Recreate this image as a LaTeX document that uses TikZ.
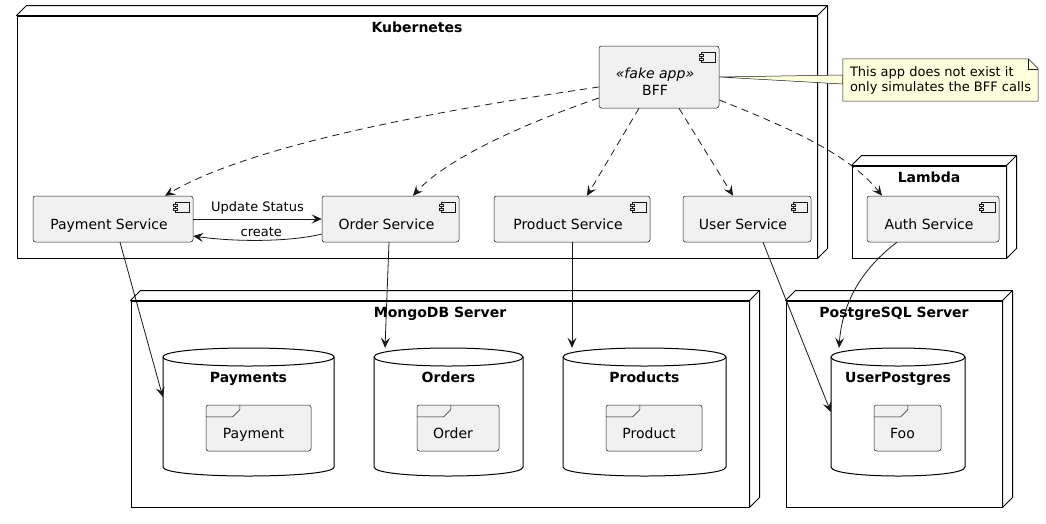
\documentclass[tikz,border=0pt]{standalone}
\usepackage{fontspec}
\setmainfont{DejaVu Sans}
\usetikzlibrary{arrows.meta}
\definecolor{ink}{RGB}{24,24,24}
\definecolor{compfill}{RGB}{241,241,241}
\definecolor{notefill}{RGB}{254,255,221}
\tikzset{
  depnode/.style={draw=black, line width=1pt, fill=white, inner sep=0pt},
  nodeline/.style={draw=black, line width=1pt, line join=round},
  ttl/.style={font=\fontsize{14}{16}\selectfont\bfseries, inner sep=0pt, text height=10.5pt, text depth=0pt},
  comp/.style={draw=ink, line width=0.5pt, fill=compfill, rounded corners=2.5pt, inner sep=0pt,
    path picture={
      \draw[sharp corners, draw=ink, line width=0.5pt] ([xshift=-18pt,yshift=-6pt]path picture bounding box.north east) rectangle ++(14pt,-10pt);
      \draw[sharp corners, draw=ink, line width=0.5pt, fill=compfill] ([xshift=-20pt,yshift=-8pt]path picture bounding box.north east) rectangle ++(4pt,-2pt);
      \draw[sharp corners, draw=ink, line width=0.5pt, fill=compfill] ([xshift=-20pt,yshift=-12pt]path picture bounding box.north east) rectangle ++(4pt,-2pt);
    }},
  complabel/.style={font=\fontsize{14}{17}\selectfont, inner sep=0pt, text height=10.5pt, text depth=0pt},
  twolabel/.style={font=\fontsize{14}{17}\selectfont, inner sep=0pt, align=center},
  frm/.style={draw=ink, line width=0.5pt, fill=compfill, rounded corners=2.5pt, inner sep=0pt},
  frmline/.style={draw=ink, line width=0.5pt},
  dbshape/.style={draw=black, line width=1pt, fill=white},
  dbline/.style={draw=black, line width=1pt},
  tip/.style={-{Stealth[length=10pt,width=9pt,inset=4pt]}},
  depend/.style={tip, draw=ink, line width=0.8pt, dash pattern=on 7pt off 5pt},
  link/.style={tip, draw=ink, line width=0.8pt},
  elabel/.style={font=\fontsize{13}{15}\selectfont, inner sep=0pt},
}
\newcommand\mynode[7]{%
  \node[depnode, minimum width={#4-#2}, minimum height={#5-#3}] (#1) at ({(#2+#4)/2},{(#3+#5)/2}) {};
  \draw[nodeline, fill=white] (#1.north west) -- ++(10,-10) -- ([shift={(10,-10)}]#1.north east) -- ([shift={(10,-10)}]#1.south east) -- (#1.south east) -- (#1.north east) -- cycle;
  \draw[nodeline] (#1.north east) -- ++(10,-10);
  \node[ttl] (#1-t) at ({(#2+#4)/2},#7) {#6};
}
\newcommand\mydb[7]{%
  \path[dbshape] (#2,#4) .. controls (#2,#4-12) and (#3,#4-12) .. (#3,#4) -- (#3,#5) .. controls (#3,#5+12) and (#2,#5+12) .. (#2,#5) -- cycle;
  \draw[dbline] (#2,#4) .. controls (#2,#4+12) and (#3,#4+12) .. (#3,#4);
  \node[inner sep=0pt, minimum width={#3-#2}, minimum height={#5-#4+18}] (#1) at ({(#2+#3)/2},{(#4+#5)/2}) {};
  \node[ttl] (#1-t) at ({(#2+#3)/2},#7) {#6};
}
\newcommand\myframe[6]{%
  \node[frm, minimum width={#4-#2}, minimum height={#5-#3}] (#1) at ({(#2+#4)/2},{(#3+#5)/2}) {};
  \draw[frmline] ([yshift=-12pt]#1.north west) -- ++(27,0) -- ++(7,-7) -- ++(0,-5);
  \node[complabel] (#1-l) at ([xshift=-5pt,yshift=-5pt]#1.center) {#6};
}
\begin{document}
\begin{tikzpicture}[x=1pt, y=-1pt]
\useasboundingbox (0,0) rectangle (1046,523);
\fill[white] (0,0) rectangle (1046,523);

% deployment nodes
\mynode{k8s}{17}{16}{817}{258}{Kubernetes}{27}
\mynode{lambda}{852}{166}{1006}{258}{Lambda}{177}
\mynode{mongo}{131}{301}{749}{507}{MongoDB Server}{312}
\mynode{pg}{786}{301}{1002}{507}{PostgreSQL Server}{312}

% components
\node[comp, minimum width=120, minimum height=62] (bff) at (659,77) {};
\node[twolabel] (bff-l) at ([xshift=-4pt,yshift=-5pt]bff.center) {\textit{«fake app»}\\BFF};
\node[comp, minimum width=160, minimum height=46] (pay) at (113,219) {};
\node[complabel] (pay-l) at ([xshift=-4pt,yshift=-5pt]pay.center) {Payment Service};
\node[comp, minimum width=137, minimum height=46] (order) at (390.5,219) {};
\node[complabel] (order-l) at ([xshift=-4pt,yshift=-5pt]order.center) {Order Service};
\node[comp, minimum width=156, minimum height=46] (prod) at (572,219) {};
\node[complabel] (prod-l) at ([xshift=-4pt,yshift=-5pt]prod.center) {Product Service};
\node[comp, minimum width=128, minimum height=46] (user) at (747,219) {};
\node[complabel] (user-l) at ([xshift=-4pt,yshift=-5pt]user.center) {User Service};
\node[comp, minimum width=132, minimum height=46] (auth) at (933,219) {};
\node[complabel] (auth-l) at ([xshift=-4pt,yshift=-5pt]auth.center) {Auth Service};

% databases
\mydb{dbpay}{163}{334}{357}{467}{Payments}{377}
\mydb{dbord}{374}{523}{357}{467}{Orders}{377}
\mydb{dbprod}{563}{726}{357}{467}{Products}{377}
\mydb{dbpg}{831}{965}{357}{467}{UserPostgres}{377}

% frames
\myframe{fpay}{206}{405}{311}{451}{Payment}
\myframe{ford}{417}{405}{499}{451}{Order}
\myframe{fprod}{606}{405}{702}{451}{Product}
\myframe{ffoo}{874}{405}{941}{451}{Foo}

% note
\node[inner sep=0pt, minimum width=195, minimum height=42] (note) at (940.5,80) {};
\draw[draw=ink, line width=0.5pt, fill=notefill] (bff.east) -- ([yshift=5pt]note.west) -- ([yshift=-4pt]note.west) -- cycle;
\draw[draw=ink, line width=0.5pt, fill=notefill] (note.north west) -- ([xshift=-10pt]note.north east) -- ([yshift=-10pt]note.north east) -- (note.south east) -- (note.south west) -- cycle;
\draw[draw=ink, line width=0.5pt] ([xshift=-10pt]note.north east) -- ++(0,10) -- ++(10,0);
\node[elabel, anchor=west, align=left] (note-t) at ([xshift=7pt,yshift=0pt]note.west) {This app does not exist it\\only simulates the BFF calls};

% dependencies
\draw[depend] ([yshift=-10pt]bff.west) .. controls (440,110) and (250,145) .. ([xshift=52pt]pay.north);
\draw[depend] ([yshift=-21pt]bff.west) .. controls (520,125) and (445,160) .. ([xshift=22.5pt]order.north);
\draw[depend] ([xshift=-20pt]bff.south) -- ([xshift=15pt]prod.north);
\draw[depend] ([xshift=20pt]bff.south) -- ([xshift=-14pt]user.north);
\draw[depend] ([yshift=-23pt]bff.east) .. controls (790,128) and (850,155) .. ([xshift=-51pt]auth.north);

% links
\draw[link] (pay.east) -- node[elabel, above=4pt] (lbl-us) {Update Status} (order.west);
\draw[link] ([yshift=-15pt]order.west) .. controls (290,242) and (235,242) .. node[elabel, above=3pt] (lbl-cr) {create} ([yshift=-17pt]pay.east);
\draw[link] ([xshift=7pt]pay.south) -- ([yshift=15pt]dbpay.west);
\draw[link] ([xshift=-1.5pt]order.south) -- ([xshift=-63.5pt]dbord.north);
\draw[link] (prod.south) -- ([xshift=-72.5pt]dbprod.north);
\draw[link] ([xshift=16pt]user.south) -- (dbpg.west);
\draw[link] ([xshift=-36pt]auth.south) .. controls (860,270) and (842,305) .. ([xshift=-59pt]dbpg.north);
\end{tikzpicture}
\end{document}
